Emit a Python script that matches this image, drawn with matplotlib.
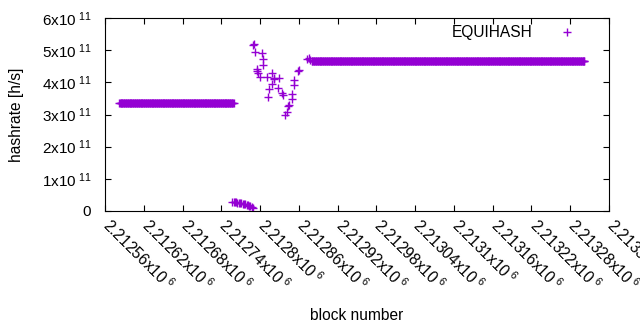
import numpy as np
import matplotlib
matplotlib.use("Agg")
import matplotlib.pyplot as plt
from matplotlib.transforms import ScaledTranslation

# constant hashrate stretches: first block, last block, value
flat_starts = [2212582, 2212880]
flat_ends = [2212759, 2213302]
flat_values = [3.35e11, 4.66e11]

# low blocks right after the first stretch
low_blocks = [2212757, 2212759, 2212761, 2212763, 2212765, 2212767, 2212769,
              2212771, 2212773, 2212775, 2212777, 2212779, 2212781, 2212783,
              2212785, 2212787, 2212789]
low_values = [0.28e11, 0.28e11, 0.27e11, 0.27e11, 0.26e11, 0.26e11, 0.25e11,
              0.24e11, 0.23e11, 0.22e11, 0.21e11, 0.20e11, 0.18e11, 0.16e11,
              0.14e11, 0.12e11, 0.10e11]

# scattered blocks before the second stretch
point_blocks = [2212789, 2212790, 2212792, 2212795, 2212796, 2212797, 2212800,
                2212803, 2212805, 2212805, 2212810, 2212813, 2212814, 2212818,
                2212819, 2212821, 2212822, 2212827, 2212829, 2212834, 2212835,
                2212839, 2212841, 2212843, 2212844, 2212849, 2212849, 2212853,
                2212853, 2212859, 2212861, 2212873, 2212875, 2212877]
point_values = [5.16e11, 5.18e11, 4.95e11, 4.40e11, 4.35e11, 4.30e11, 4.17e11,
                4.90e11, 4.72e11, 4.54e11, 4.16e11, 3.55e11, 3.78e11, 3.94e11,
                4.28e11, 4.12e11, 4.09e11, 3.81e11, 4.12e11, 3.66e11, 3.62e11,
                2.98e11, 3.09e11, 3.25e11, 3.28e11, 3.63e11, 3.48e11, 4.07e11,
                3.92e11, 4.35e11, 4.38e11, 4.72e11, 4.75e11, 4.70e11]

x_ticks = np.arange(2212560, 2213341, 60)
y_ticks = [0, 1e11, 2e11, 3e11, 4e11, 5e11, 6e11]

purple = "#9400d3"
plt.rcParams["font.family"] = ["Liberation Sans", "DejaVu Sans"]
plt.rcParams["mathtext.fontset"] = "custom"
plt.rcParams["mathtext.rm"] = "Liberation Sans"
plt.rcParams["mathtext.it"] = "Liberation Sans"

fig = plt.figure(figsize=(6.4, 3.3), dpi=100)
ax = fig.add_axes([105 / 640, 1 - 211 / 330, 504 / 640, 193 / 330])

# expand the flat stretches to one point per block
blocks = []
values = []
for s, e, v in zip(flat_starts, flat_ends, flat_values):
    b = np.arange(s, e + 1)
    blocks.append(b)
    values.append(np.full(len(b), v))
blocks.append(np.array(low_blocks))
values.append(np.array(low_values))
blocks.append(np.array(point_blocks))
values.append(np.array(point_values))
blocks = np.concatenate(blocks)
values = np.concatenate(values)

ax.plot(blocks, values, "+", color=purple, ms=5.3, mew=1.0, linestyle="none",
        label="EQUIHASH")

ax.set_xlim(2212560, 2213340)
ax.set_ylim(0, 6e11)

# x tick labels drawn by hand so they can sit where gnuplot puts them
ax.set_xticks(x_ticks)
ax.set_xticklabels([])
lab_trans = ax.get_xaxis_transform() + ScaledTranslation(-0.035, -0.16, fig.dpi_scale_trans)
for v in x_ticks:
    ax.text(v, 0, r"$\mathregular{%sx10^{\ 6}}$" % f"{v / 1e6:g}", transform=lab_trans,
            rotation=-45, ha="left", va="baseline", rotation_mode="anchor",
            fontsize=11.2, clip_on=False)

ax.set_yticks(y_ticks)
ax.set_yticklabels(["0"] + [r"$\mathregular{%dx10^{\ 11}}$" % (v / 1e11) for v in y_ticks[1:]],
                   fontsize=11)

ax.tick_params(direction="in", length=4, width=0.8, top=True, right=True,
               colors="black")
ax.tick_params(axis="y", pad=10)
for sp in ax.spines.values():
    sp.set_linewidth(0.8)

ax.set_xlabel("block number", fontsize=11.2)
ax.xaxis.set_label_coords(0.5, -0.54)
ax.xaxis.label.set_va("center")
ax.set_ylabel("hashrate [h/s]", fontsize=11.2)
ax.yaxis.set_label_coords(-0.175, 0.5)
ax.yaxis.label.set_va("center")

ax.legend(loc="upper right", bbox_to_anchor=(0.953, 0.98), borderaxespad=0,
          borderpad=0.2, frameon=False, markerfirst=False, handletextpad=1.2,
          fontsize=11.2, handlelength=2)

fig.savefig("out.png", dpi=100)
